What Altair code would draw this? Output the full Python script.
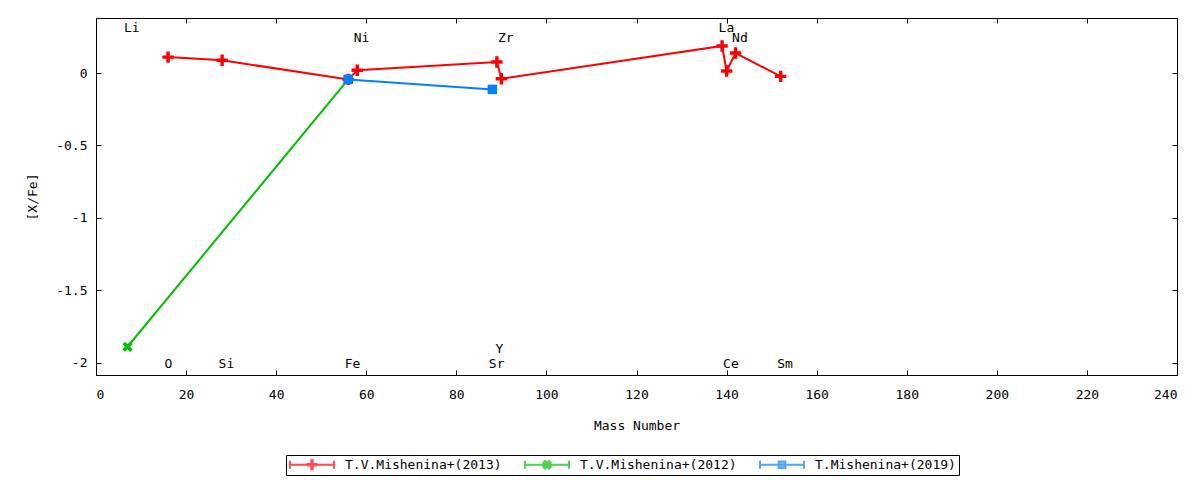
import altair as alt
import pandas as pd

# ---- data ----
series_names = ["T.V.Mishenina+(2013)", "T.V.Mishenina+(2012)", "T.Mishenina+(2019)"]
series_colors = ["#ff0000", "#00c000", "#0080ff"]

mass_2013 = [16, 28, 56, 58, 89, 90, 139, 140, 142, 152]
xfe_2013 = [0.11, 0.088, -0.044, 0.019, 0.076, -0.039, 0.187, 0.014, 0.138, -0.023]

mass_2012 = [7, 56]
xfe_2012 = [-1.89, -0.044]

mass_2019 = [56, 88]
xfe_2019 = [-0.044, -0.113]

elem_names = ["Li", "O", "Si", "Fe", "Ni", "Sr", "Y", "Zr", "La", "Ce", "Nd", "Sm"]
elem_mass = [7, 16, 28, 56, 58, 88, 89.5, 90, 139, 140, 142, 152]
elem_ypos = [0.311, -2.007, -2.007, -2.007, 0.24, -2.007, -1.903, 0.24, 0.311, -2.007, 0.24, -2.007]

x_ticks = list(range(0, 241, 20))
y_ticks = [0, -0.5, -1, -1.5, -2]

FONT = "DejaVu Sans Mono"

rows = []
for name, ms, vs in zip(series_names, [mass_2013, mass_2012, mass_2019], [xfe_2013, xfe_2012, xfe_2019]):
    for m, v in zip(ms, vs):
        rows.append({"series": name, "mass": m, "xfe": v})
df = pd.DataFrame(rows)
labels_df = pd.DataFrame({"name": elem_names, "mass": elem_mass, "ypos": elem_ypos})

xscale = alt.Scale(domain=[0, 240], nice=False, zero=False)
yscale = alt.Scale(domain=[-2.085, 0.38], nice=False, zero=False)

# marker shapes
PLUS = "M-1,-0.3H-0.3V-1H0.3V-0.3H1V0.3H0.3V1H-0.3V0.3H-1Z"
t = 0.5
XSHAPE = (f"M-1,{-1+t}L{-1+t},-1L0,{-t}L{1-t},-1L1,{-1+t}L{t},0L1,{1-t}L{1-t},1L0,{t}"
          f"L{-1+t},1L-1,{1-t}L{-t},0Z")
marker_shapes = [PLUS, XSHAPE, "square"]
marker_sizes = [130, 105, 90]

# legend sample shapes: line with end caps and a marker in the middle
BASE = "M-1,0H1M-1,-0.18V0.18M1,-0.18V0.18"
LPLUS = "M-0.2,-0.03H-0.03V-0.2H0.03V-0.03H0.2V0.03H0.03V0.2H-0.03V0.03H-0.2Z"
LX = ("M-0.17,-0.09L-0.09,-0.17L0,-0.08L0.09,-0.17L0.17,-0.09L0.08,0L0.17,0.09L0.09,0.17L0,0.08"
      "L-0.09,0.17L-0.17,0.09L-0.08,0Z")
LSQ = "M-0.15,-0.15H0.15V0.15H-0.15Z"
legend_shapes = [BASE + LPLUS, BASE + LX, BASE + LSQ]

X_NOAXIS = alt.X("mass:Q", scale=xscale, axis=None)
Y_NOAXIS = alt.Y("xfe:Q", scale=yscale, axis=None)

layers = []
for i, name in enumerate(series_names):
    sub = alt.Chart(df).transform_filter(alt.datum.series == name)
    line = sub.mark_line(strokeWidth=2, color=series_colors[i]).encode(x=X_NOAXIS, y=Y_NOAXIS)
    pts = sub.mark_point(shape=marker_shapes[i], size=marker_sizes[i], filled=True,
                         opacity=1, color=series_colors[i]).encode(x=X_NOAXIS, y=Y_NOAXIS)
    layers += [line, pts]

# main axes (bottom / left), ticks pointing inward via negative offset
axes_main = alt.Chart(df).mark_point(opacity=0).encode(
    x=alt.X("mass:Q", scale=xscale, title="Mass Number",
            axis=alt.Axis(values=x_ticks, orient="bottom", offset=-5, tickSize=5,
                          labelPadding=13, titleX=540.5, titleY=55,
                          titleBaseline="middle", labelExpr="toString(datum.value)")),
    y=alt.Y("xfe:Q", scale=yscale, title="[X/Fe]",
            axis=alt.Axis(values=y_ticks, orient="left", offset=-5, tickSize=5,
                          labelPadding=9, titleX=-69, titleY=178.5,
                          titleBaseline="middle", titleAngle=-90,
                          labelExpr="toString(datum.value)")),
)

# mirrored ticks (top / right)
axes_mirror = alt.Chart(df).mark_point(opacity=0).encode(
    x=alt.X("mass:Q", scale=xscale, title=None,
            axis=alt.Axis(values=x_ticks, orient="top", offset=-5, tickSize=5, labels=False)),
    y=alt.Y("xfe:Q", scale=yscale, title=None,
            axis=alt.Axis(values=y_ticks, orient="right", offset=-5, tickSize=5, labels=False)),
)

# element labels
text = alt.Chart(labels_df).mark_text(align="left", baseline="middle", dx=-3.5,
                                      font=FONT, fontSize=13, color="black").encode(
    x=alt.X("mass:Q", scale=xscale, axis=None),
    y=alt.Y("ypos:Q", scale=yscale, axis=None),
    text="name:N",
)

LEG = dict(title=None, orient="none", legendX=190, legendY=437, direction="horizontal",
           columns=3, strokeColor="black", fillColor="white", padding=3,
           labelFont=FONT, labelFontSize=13, labelColor="black", labelLimit=400,
           labelAlign="left", labelOffset=10, symbolOffset=0, symbolSize=1936,
           symbolStrokeWidth=2, clipHeight=13, columnPadding=22)

# legend layer (no visible marks; entries come from the explicit scale domains)
legend_layer = alt.Chart(df).transform_filter("false").mark_point(strokeWidth=2).encode(
    x=X_NOAXIS, y=Y_NOAXIS,
    fill=alt.Fill("series:N", scale=alt.Scale(domain=series_names, range=series_colors),
                  legend=alt.Legend(**LEG)),
    stroke=alt.Stroke("series:N", scale=alt.Scale(domain=series_names, range=series_colors),
                      legend=alt.Legend(**LEG)),
    shape=alt.Shape("series:N", scale=alt.Scale(domain=series_names, range=legend_shapes),
                    legend=alt.Legend(**LEG)),
)

chart = alt.layer(*layers, text, axes_main, axes_mirror, legend_layer).resolve_axis(
    x="independent", y="independent"
).properties(
    width=1081, height=357,
    autosize=alt.AutoSizeParams(type="none"),
    padding={"left": 88, "top": 10, "right": 14, "bottom": 105},
).configure_view(
    stroke="black", strokeWidth=1
).configure_axis(
    labelFont=FONT, titleFont=FONT, labelFontSize=13, titleFontSize=13,
    labelColor="black", titleColor="black", titleFontWeight="normal",
    tickColor="black", tickWidth=1, grid=False, domain=False,
).configure_legend(
    strokeWidth=1, cornerRadius=0,
)

chart.save("out.html", embed_options={"renderer": "svg", "actions": False})
